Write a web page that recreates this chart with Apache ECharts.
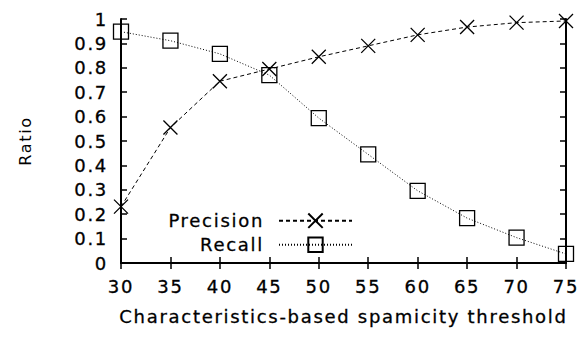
<!DOCTYPE html>
<html><head><meta charset="utf-8">
<script src="https://cdn.jsdelivr.net/npm/echarts@6/dist/echarts.min.js"></script>
<style>html,body{margin:0;padding:0;background:#fff}#c{width:582px;height:339px;letter-spacing:1.7px}</style>
</head><body><div id="c"></div>
<script>
const thresholds = [30, 35, 40, 45, 50, 55, 60, 65, 70, 75];
const precision = [0.231, 0.555, 0.745, 0.795, 0.845, 0.89, 0.935, 0.967, 0.985, 0.992];
const recall = [0.948, 0.911, 0.857, 0.77, 0.594, 0.445, 0.296, 0.184, 0.104, 0.037];
const seriesNames = ['Precision', 'Recall'];
const xName = 'Characteristics-based spamicity threshold';
const yName = 'Ratio';

const FONT = 'DejaVu Sans';
const chart = echarts.init(document.getElementById('c'), null, {renderer: 'svg'});
const frame = {show: true, lineStyle: {color: '#000', width: 2}};
const tick = {show: true, inside: true, length: 6, lineStyle: {color: '#000', width: 1.5}};
const xMark = 'path://M0 0L10 10M10 0L0 10';
const txt = {fontFamily: FONT, fontSize: 18, color: '#000', textBorderColor: '#000', textBorderWidth: 0.3};
function legendCfg(name, top) {
  return {
    data: [name], orient: 'vertical', align: 'right', right: 229, top: top, padding: 0,
    itemWidth: 73, itemHeight: 18, selectedMode: false,
    textStyle: Object.assign({}, txt, {padding: [0, 10, 0, 0]})
  };
}
chart.setOption({
  animation: false,
  backgroundColor: '#fff',
  grid: {left: 121, right: 16, top: 19, bottom: 76},
  legend: [legendCfg(seriesNames[0], 211), legendCfg(seriesNames[1], 235)],
  xAxis: [{
    type: 'value', min: 30, max: 75, interval: 5, position: 'bottom',
    axisLine: frame, axisTick: tick, splitLine: {show: false},
    axisLabel: Object.assign({}, txt, {margin: 14}),
    name: xName, nameLocation: 'middle', nameGap: 44,
    nameTextStyle: txt
  }, {
    type: 'value', min: 30, max: 75, interval: 5, position: 'top',
    axisLine: frame, axisTick: tick, splitLine: {show: false}, axisLabel: {show: false}
  }],
  yAxis: [{
    type: 'value', min: 0, max: 1, interval: 0.1, position: 'left',
    axisLine: frame, axisTick: tick, splitLine: {show: false},
    axisLabel: Object.assign({}, txt, {margin: 13}),
    name: yName, nameLocation: 'middle', nameGap: 88,
    nameTextStyle: Object.assign({}, txt, {fontSize: 16, textBorderWidth: 0})
  }, {
    type: 'value', min: 0, max: 1, interval: 0.1, position: 'right',
    axisLine: frame, axisTick: tick, splitLine: {show: false}, axisLabel: {show: false}
  }],
  series: [{
    name: seriesNames[0], type: 'line', xAxisIndex: 0, yAxisIndex: 0,
    data: thresholds.map((t, i) => [t, precision[i]]),
    symbol: xMark, symbolSize: 14,
    lineStyle: {color: '#000', width: 1, type: [4, 3]},
    itemStyle: {color: 'none', borderColor: '#000', borderWidth: 1.3}
  }, {
    name: seriesNames[1], type: 'line', xAxisIndex: 0, yAxisIndex: 0,
    data: thresholds.map((t, i) => [t, recall[i]]),
    symbol: 'rect', symbolSize: 15,
    lineStyle: {color: '#000', width: 1, type: [1, 2]},
    itemStyle: {color: 'none', borderColor: '#000', borderWidth: 1.3}
  }]
});
</script></body></html>
